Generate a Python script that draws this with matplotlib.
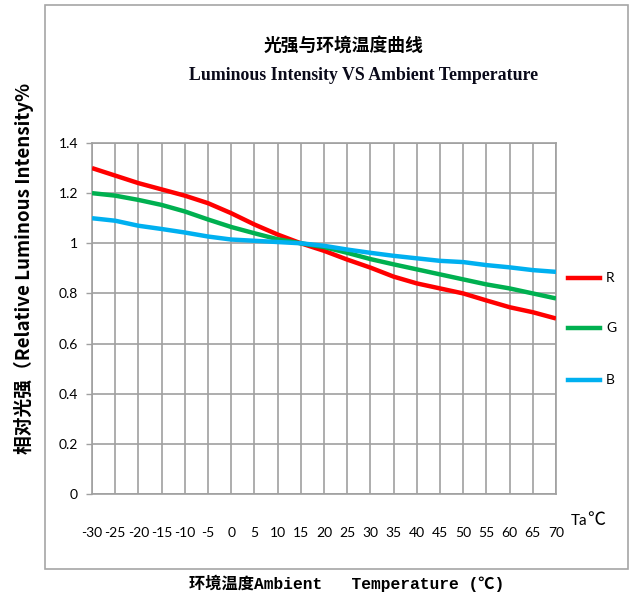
import matplotlib
matplotlib.use("Agg")
import matplotlib.pyplot as plt
from matplotlib.patches import Rectangle
from matplotlib.lines import Line2D

temps = [-30, -25, -20, -15, -10, -5, 0, 5, 10, 15, 20, 25, 30, 35, 40, 45, 50, 55, 60, 65, 70]
red = [1.30, 1.27, 1.24, 1.215, 1.19, 1.16, 1.12, 1.075, 1.035, 1.0, 0.97, 0.935, 0.903,
       0.867, 0.84, 0.82, 0.80, 0.772, 0.745, 0.725, 0.70]
green = [1.20, 1.19, 1.173, 1.153, 1.127, 1.095, 1.065, 1.04, 1.016, 1.0, 0.985, 0.962, 0.937,
         0.916, 0.896, 0.876, 0.856, 0.836, 0.82, 0.80, 0.78]
blue = [1.10, 1.09, 1.07, 1.057, 1.043, 1.027, 1.015, 1.01, 1.005, 1.0, 0.99, 0.975, 0.962,
        0.95, 0.94, 0.93, 0.925, 0.913, 0.904, 0.893, 0.886]
series_names = ["R", "G", "B"]
series_colors = ["#FF0000", "#00B050", "#00B0F0"]
yticks = [0, 0.2, 0.4, 0.6, 0.8, 1.0, 1.2, 1.4]
ytick_labels = ["0", "0.2", "0.4", "0.6", "0.8", "1", "1.2", "1.4"]

W, H = 637, 598
fig = plt.figure(figsize=(W / 100, H / 100), dpi=100)
fig.patch.set_facecolor("white")

def fx(px):
    return px / W

def fy(py):
    return 1 - py / H

# outer chart frame
fig.patches.append(Rectangle((fx(45), fy(569)), fx(628) - fx(45), fy(5) - fy(569),
                             transform=fig.transFigure, fill=False, edgecolor="#A6A6A6",
                             linewidth=1.2))

ax = fig.add_axes([fx(92), fy(494), fx(556) - fx(92), fy(143) - fy(494)])
xpos = list(range(len(temps)))
for vals, name, col in zip([red, green, blue], series_names, series_colors):
    ax.plot(xpos, vals, color=col, linewidth=3.2, solid_capstyle="butt", label=name, zorder=3)

ax.set_xlim(0, len(temps) - 1)
ax.set_ylim(0, 1.4)
ax.set_xticks(xpos)
ax.set_xticklabels([str(t) for t in temps], fontsize=10, family="Lato")
ax.set_yticks(yticks)
ax.set_yticklabels(ytick_labels, fontsize=10, family="Lato")
ax.tick_params(axis="x", length=0, pad=24)
ax.tick_params(axis="y", length=4, width=1, color="#A0A0A0", pad=6)
ax.grid(True, color="#A0A0A0", linewidth=1.2, zorder=0)
ax.set_axisbelow(True)
for s in ax.spines.values():
    s.set_color("#A0A0A0")
    s.set_linewidth(1.2)

# legend
leg_y = [278, 328, 380]
for name, col, yy in zip(series_names, series_colors, leg_y):
    fig.lines.append(Line2D([fx(568), fx(600)], [fy(yy), fy(yy)], transform=fig.transFigure,
                            color=col, linewidth=3.2))
    fig.text(fx(606), fy(yy), name, fontsize=10, family="Lato", va="center", ha="left")

# titles
fig.text(fx(343), fy(46), "光强与环境温度曲线", fontsize=12.8, fontweight="bold",
         family=["Noto Sans CJK SC", "DejaVu Sans"], ha="center", va="center")
fig.text(fx(364), fy(76), "Luminous Intensity VS Ambient Temperature", fontsize=12.8,
         fontweight="bold", family="Liberation Serif", ha="center", va="center",
         color="#0A0A1A")

# y label
fig.text(fx(24), fy(268), "相对光强（Relative Luminous Intensity%", rotation=90,
         fontsize=13.5, fontweight="bold", family=["Noto Sans CJK SC", "DejaVu Sans"],
         ha="center", va="center")

# x label
fig.text(fx(347), fy(583), "环境温度Ambient   Temperature (℃)", fontsize=11.7,
         fontweight="bold", family=["Liberation Mono", "Noto Sans CJK SC"],
         ha="center", va="center")

# Ta unit
fig.text(fx(571), fy(521), "Ta", fontsize=11, family="Lato", ha="left", va="center")
fig.text(fx(587), fy(520), "℃", fontsize=13, family=["Noto Sans CJK SC"], ha="left",
         va="center")

fig.savefig("out.png", dpi=100)
